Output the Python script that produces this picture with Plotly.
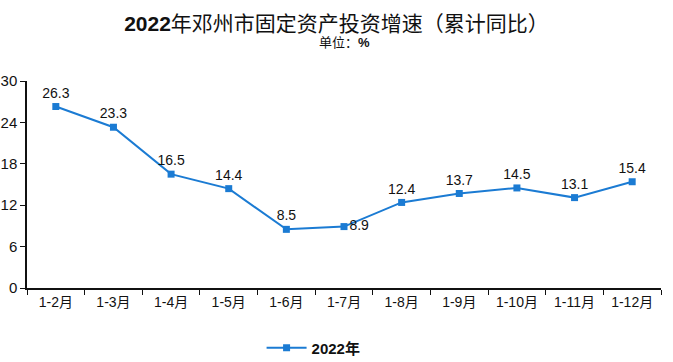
import plotly.graph_objects as go

categories = ["1-2月", "1-3月", "1-4月", "1-5月", "1-6月", "1-7月", "1-8月", "1-9月", "1-10月", "1-11月", "1-12月"]
values = [26.3, 23.3, 16.5, 14.4, 8.5, 8.9, 12.4, 13.7, 14.5, 13.1, 15.4]
label_pos = ["top center"] * 5 + ["middle right"] + ["top center"] * 5
series_name = "2022年"
title_text = "<b>2022</b>年邓州市固定资产投资增速（累计同比）"
unit_text = "单位：<b>%</b>"

FONT = "Liberation Sans, Arial, Noto Sans CJK SC, sans-serif"
COLOR = "#1B7BD3"

fig = go.Figure()
fig.add_trace(go.Scatter(
    x=categories, y=values, name="<b>" + series_name + "</b>",
    mode="lines+markers+text",
    line=dict(color=COLOR, width=2),
    marker=dict(symbol="square", size=7, color=COLOR),
    text=[f"{v:.1f}" for v in values],
    textposition=label_pos,
    textfont=dict(size=14, color="#111111", family=FONT),
    cliponaxis=False,
))

fig.add_annotation(text=unit_text, xref="paper", yref="paper", x=0.5, y=1.1836,
                   xanchor="center", yanchor="middle", showarrow=False,
                   font=dict(size=13, family=FONT, color="#111111"))

fig.update_layout(
    width=673, height=362,
    margin=dict(l=27, r=12, t=81, b=74, autoexpand=False),
    paper_bgcolor="white", plot_bgcolor="white",
    font=dict(family=FONT, color="#111111"),
    title=dict(
        text=title_text,
        x=0.5, xanchor="center", y=0.934, yanchor="middle",
        font=dict(size=21, family=FONT, color="#111111"),
    ),
    showlegend=True,
    legend=dict(orientation="h", x=0.37, xanchor="left", y=-0.29, yanchor="middle",
                itemwidth=40, font=dict(size=15, family=FONT, color="#111111")),
    xaxis=dict(
        type="category", showline=True, linecolor="#111111", linewidth=1.5,
        ticks="outside", tickson="boundaries", ticklen=5, tickcolor="#111111",
        showgrid=False, tickfont=dict(size=14, family=FONT, color="#111111"),
        range=[-0.5, 10.5], automargin=False,
    ),
    yaxis=dict(
        range=[0, 30], dtick=6, showline=True, linecolor="#111111", linewidth=1.5,
        ticks="outside", ticklen=5, tickcolor="#111111", showgrid=False, zeroline=False,
        tickfont=dict(size=15, family=FONT, color="#111111"), automargin=False,
    ),
)

fig.write_html("out.html", config={"displayModeBar": False},
               post_script="document.body.style.margin='0px';")
